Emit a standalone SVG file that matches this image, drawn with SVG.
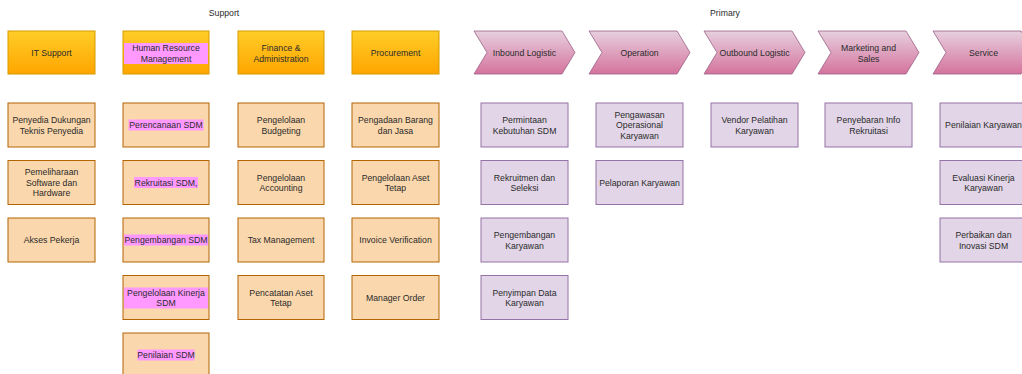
<svg xmlns="http://www.w3.org/2000/svg" width="1022" height="374" viewBox="0 0 1022 374">
<defs>
<linearGradient id="gOrange" x1="0" y1="0" x2="0" y2="1"><stop offset="0" stop-color="#ffcd28"/><stop offset="1" stop-color="#ffa500"/></linearGradient>
<linearGradient id="gPink" x1="0" y1="0" x2="0" y2="1"><stop offset="0" stop-color="#e6d0de"/><stop offset="1" stop-color="#d5739d"/></linearGradient>
<style>
.hdr{fill:url(#gOrange);stroke:#d79b00;stroke-width:1}
.chev{fill:url(#gPink);stroke:#996185;stroke-width:0.8}
.sup{fill:#fad7ac;stroke:#b46504;stroke-width:1}
.pri{fill:#e1d5e7;stroke:#9673a6;stroke-width:1}
.hl{fill:#ff99ff}
text{font-family:"Liberation Sans",Arial,sans-serif;font-size:8.7px;fill:#2b2b2b;text-anchor:middle}
</style>
</defs>
<rect width="1022" height="374" fill="#ffffff"/>
<text x="224" y="16">Support</text>
<text x="725" y="16">Primary</text>

<!-- Support headers -->
<g id="h-it"><rect class="hdr" x="8" y="31" width="87" height="43"/><text x="51.5" y="55.5">IT Support</text></g>
<g id="h-hr"><rect class="hdr" x="123" y="31" width="86" height="43"/><rect class="hl" x="124" y="43" width="84" height="21"/><text x="166" y="51">Human Resource</text><text x="166" y="61.5">Management</text></g>
<g id="h-fin"><rect class="hdr" x="238" y="31" width="86" height="43"/><text x="281" y="51">Finance &amp;</text><text x="281" y="61.5">Administration</text></g>
<g id="h-proc"><rect class="hdr" x="352" y="31" width="87" height="43"/><text x="395.5" y="55.5">Procurement</text></g>

<!-- Primary chevrons -->
<g id="c-inbound"><path class="chev" d="M474,31 L562,31 L575,52.5 L562,74 L474,74 L487,52.5 Z"/><text x="524.5" y="55.5">Inbound Logistic</text></g>
<g id="c-operation"><path class="chev" d="M589,31 L677,31 L690,52.5 L677,74 L589,74 L602,52.5 Z"/><text x="639.5" y="55.5">Operation</text></g>
<g id="c-outbound"><path class="chev" d="M704,31 L792,31 L805,52.5 L792,74 L704,74 L717,52.5 Z"/><text x="754.5" y="55.5">Outbound Logistic</text></g>
<g id="c-marketing"><path class="chev" d="M818,31 L906,31 L919,52.5 L906,74 L818,74 L831,52.5 Z"/><text x="868.5" y="51">Marketing and</text><text x="868.5" y="61.5">Sales</text></g>
<g id="c-service"><path class="chev" d="M933,31 L1021,31 L1034,52.5 L1021,74 L933,74 L946,52.5 Z"/><text x="983.5" y="55.5">Service</text></g>

<!-- IT column -->
<g id="it1"><rect class="sup" x="8" y="103" width="87" height="44"/><text x="51.5" y="123">Penyedia Dukungan</text><text x="51.5" y="133.5">Teknis Penyedia</text></g>
<g id="it2"><rect class="sup" x="8" y="160.5" width="87" height="44"/><text x="51.5" y="175">Pemeliharaan</text><text x="51.5" y="185.5">Software dan</text><text x="51.5" y="196">Hardware</text></g>
<g id="it3"><rect class="sup" x="8" y="218" width="87" height="44"/><text x="51.5" y="243">Akses Pekerja</text></g>

<!-- HR column -->
<g id="hr1"><rect class="sup" x="123" y="103" width="86" height="44"/><rect class="hl" x="128.5" y="119.5" width="75" height="11"/><text x="166" y="128">Perencanaan SDM</text></g>
<g id="hr2"><rect class="sup" x="123" y="160.5" width="86" height="44"/><rect class="hl" x="134" y="177" width="64" height="11"/><text x="166" y="185.5">Rekruitasi SDM,</text></g>
<g id="hr3"><rect class="sup" x="123" y="218" width="86" height="44"/><rect class="hl" x="124" y="234.5" width="84" height="11"/><text x="166" y="243">Pengembangan SDM</text></g>
<g id="hr4"><rect class="sup" x="123" y="275.5" width="86" height="44"/><rect class="hl" x="124" y="287.5" width="84" height="21"/><text x="166" y="295.5">Pengelolaan Kinerja</text><text x="166" y="306">SDM</text></g>
<g id="hr5"><rect class="sup" x="123" y="333" width="86" height="44"/><rect class="hl" x="137.5" y="349.5" width="57" height="11"/><text x="166" y="358">Penilaian SDM</text></g>

<!-- Finance column -->
<g id="fin1"><rect class="sup" x="238" y="103" width="86" height="44"/><text x="281" y="123">Pengelolaan</text><text x="281" y="133.5">Budgeting</text></g>
<g id="fin2"><rect class="sup" x="238" y="160.5" width="86" height="44"/><text x="281" y="180.5">Pengelolaan</text><text x="281" y="191">Accounting</text></g>
<g id="fin3"><rect class="sup" x="238" y="218" width="86" height="44"/><text x="281" y="243">Tax Management</text></g>
<g id="fin4"><rect class="sup" x="238" y="275.5" width="86" height="44"/><text x="281" y="295.5">Pencatatan Aset</text><text x="281" y="306">Tetap</text></g>

<!-- Procurement column -->
<g id="pr1"><rect class="sup" x="352" y="103" width="87" height="44"/><text x="395.5" y="123">Pengadaan Barang</text><text x="395.5" y="133.5">dan Jasa</text></g>
<g id="pr2"><rect class="sup" x="352" y="160.5" width="87" height="44"/><text x="395.5" y="180.5">Pengelolaan Aset</text><text x="395.5" y="191">Tetap</text></g>
<g id="pr3"><rect class="sup" x="352" y="218" width="87" height="44"/><text x="395.5" y="243">Invoice Verification</text></g>
<g id="pr4"><rect class="sup" x="352" y="275.5" width="87" height="44"/><text x="395.5" y="300.5">Manager Order</text></g>

<!-- Inbound column -->
<g id="in1"><rect class="pri" x="481" y="103" width="87" height="44"/><text x="524.5" y="123">Permintaan</text><text x="524.5" y="133.5">Kebutuhan SDM</text></g>
<g id="in2"><rect class="pri" x="481" y="160.5" width="87" height="44"/><text x="524.5" y="180.5">Rekruitmen dan</text><text x="524.5" y="191">Seleksi</text></g>
<g id="in3"><rect class="pri" x="481" y="218" width="87" height="44"/><text x="524.5" y="238">Pengembangan</text><text x="524.5" y="248.5">Karyawan</text></g>
<g id="in4"><rect class="pri" x="481" y="275.5" width="87" height="44"/><text x="524.5" y="295.5">Penyimpan Data</text><text x="524.5" y="306">Karyawan</text></g>

<!-- Operation column -->
<g id="op1"><rect class="pri" x="596" y="103" width="87" height="44"/><text x="639.5" y="117.5">Pengawasan</text><text x="639.5" y="128">Operasional</text><text x="639.5" y="138.5">Karyawan</text></g>
<g id="op2"><rect class="pri" x="596" y="160.5" width="87" height="44"/><text x="639.5" y="185.5">Pelaporan Karyawan</text></g>

<!-- Outbound column -->
<g id="out1"><rect class="pri" x="711" y="103" width="87" height="44"/><text x="754.5" y="123">Vendor Pelatihan</text><text x="754.5" y="133.5">Karyawan</text></g>

<!-- Marketing column -->
<g id="mk1"><rect class="pri" x="825" y="103" width="87" height="44"/><text x="868.5" y="123">Penyebaran Info</text><text x="868.5" y="133.5">Rekruitasi</text></g>

<!-- Service column -->
<g id="sv1"><rect class="pri" x="940" y="103" width="87" height="44"/><text x="983.5" y="128">Penilaian Karyawan</text></g>
<g id="sv2"><rect class="pri" x="940" y="160.5" width="87" height="44"/><text x="983.5" y="180.5">Evaluasi Kinerja</text><text x="983.5" y="191">Karyawan</text></g>
<g id="sv3"><rect class="pri" x="940" y="218" width="87" height="44"/><text x="983.5" y="238">Perbaikan dan</text><text x="983.5" y="248.5">Inovasi SDM</text></g>

<g id="connectors"></g>
</svg>
